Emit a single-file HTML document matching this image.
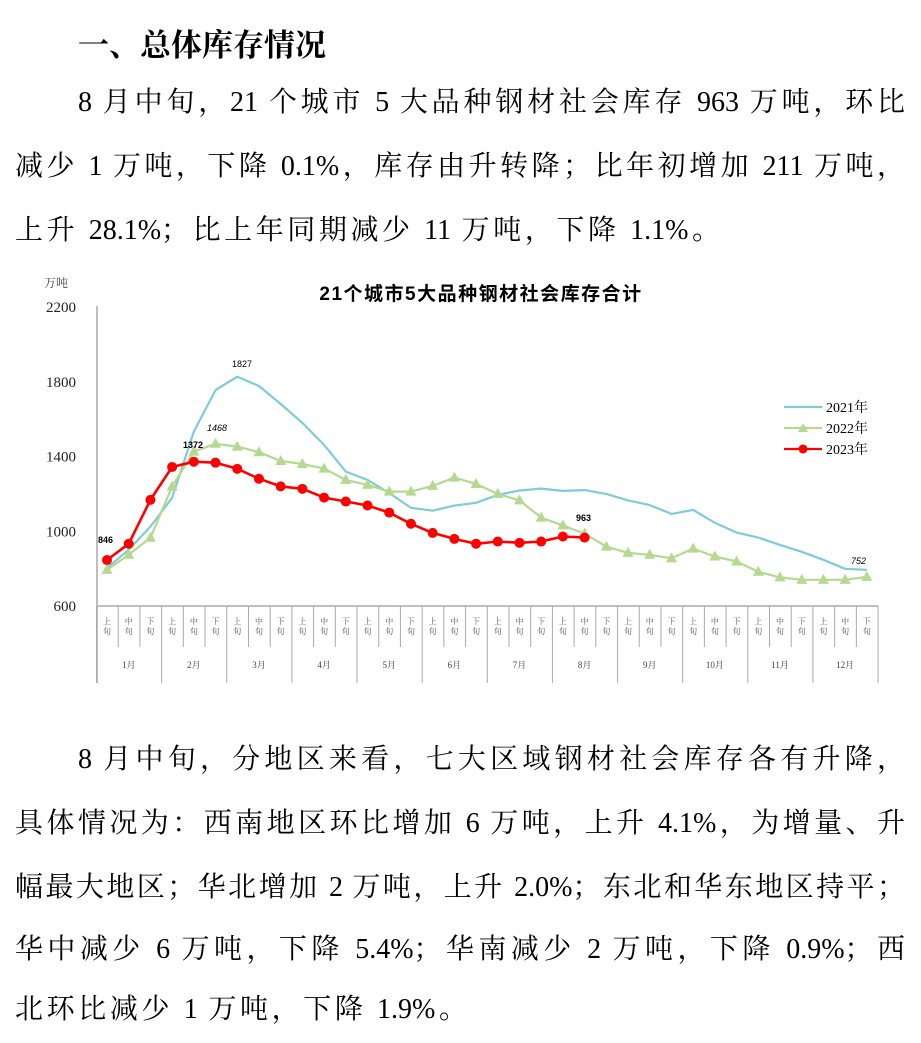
<!DOCTYPE html>
<html><head><meta charset="utf-8">
<style>
body{margin:0;width:921px;height:1043px;background:#fff;position:relative;overflow:hidden;font-family:"Liberation Serif","Noto Serif CJK SC",serif;color:#000}
.l{position:absolute;left:15px;width:890px;font-size:28px;line-height:34px;white-space:nowrap;text-align:justify;text-align-last:justify}
.h{position:absolute;left:78px;top:24px;font-size:31px;font-weight:bold;line-height:38px;font-family:"Noto Serif CJK SC",serif}
svg{position:absolute;left:0;top:0}
</style></head><body>
<div class="h">一、总体库存情况</div>
<div class="l" style="top:86px;left:78px;width:827px">8 月中旬，21 个城市 5 大品种钢材社会库存 963 万吨，环比</div>
<div class="l" style="top:150px">减少 1 万吨，下降 0.1%，库存由升转降；比年初增加 211 万吨，</div>
<div class="l" style="top:214px;width:705px">上升 28.1%；比上年同期减少 11 万吨，下降 1.1%。</div>

<div class="l" style="top:743px;left:78px;width:827px">8 月中旬，分地区来看，七大区域钢材社会库存各有升降，</div>
<div class="l" style="top:807px">具体情况为：西南地区环比增加 6 万吨，上升 4.1%，为增量、升</div>
<div class="l" style="top:871px">幅最大地区；华北增加 2 万吨，上升 2.0%；东北和华东地区持平；</div>
<div class="l" style="top:933px">华中减少 6 万吨，下降 5.4%；华南减少 2 万吨，下降 0.9%；西</div>
<div class="l" style="top:993px;width:452px">北环比减少 1 万吨，下降 1.9%。</div>

<svg id="c" width="921" height="1043" xmlns="http://www.w3.org/2000/svg"></svg>
<script>
var s='';
function Y(v){return 606-(v-600)*299/1600;}
function X(i){return 107+i*21.71;}
s+='<text x="481" y="300" text-anchor="middle" font-family="Liberation Sans,Noto Sans CJK SC,sans-serif" font-weight="bold" font-size="19" letter-spacing="1.5">21个城市5大品种钢材社会库存合计</text>';
s+='<text x="44" y="287" font-family="Noto Serif CJK SC,serif" font-size="12" fill="#444">万吨</text>';
[2200,1800,1400,1000,600].forEach(function(v){s+='<text x="76" y="'+(Y(v)+5)+'" text-anchor="end" font-family="Liberation Serif,serif" font-size="15" fill="#222">'+v+'</text>';});
s+='<line x1="97" y1="306" x2="97" y2="683" stroke="#aaa" stroke-width="1.5"/>';
s+='<line x1="97" y1="606" x2="878" y2="606" stroke="#aaa" stroke-width="1.5"/>';
var sub=['上','中','下'],mon=['1月','2月','3月','4月','5月','6月','7月','8月','9月','10月','11月','12月'];
for(var i=0;i<=36;i++){var x=96.5+i*21.71;s+='<line x1="'+x+'" y1="606" x2="'+x+'" y2="'+(i%3==0?683:647)+'" stroke="#aaa" stroke-width="1"/>';}
for(var i=0;i<36;i++){var x=X(i);s+='<text x="'+x+'" y="624" text-anchor="middle" font-family="Noto Serif CJK SC,serif" font-size="8" fill="#555">'+sub[i%3]+'</text><text x="'+x+'" y="634" text-anchor="middle" font-family="Noto Serif CJK SC,serif" font-size="8" fill="#555">旬</text>';}
for(var m=0;m<12;m++){s+='<text x="'+X(m*3+1)+'" y="668" text-anchor="middle" font-family="Liberation Serif,Noto Serif CJK SC,serif" font-size="9" fill="#444">'+mon[m]+'</text>';}
var a=[804,901,1025,1179,1533,1756,1827,1777,1681,1580,1462,1319,1275,1205,1125,1110,1137,1152,1195,1218,1228,1216,1220,1200,1165,1140,1093,1114,1045,993,966,927,890,847,799,793];
var b=[793,874,965,1239,1426,1468,1453,1423,1376,1360,1335,1275,1248,1212,1212,1243,1287,1253,1200,1165,1073,1031,987,918,884,874,855,907,865,838,783,753,740,740,740,756];
var c=[846,933,1168,1344,1372,1367,1334,1281,1240,1227,1180,1159,1138,1100,1040,991,959,933,945,938,945,972,966];
function pl(d,col,w){return '<polyline fill="none" stroke="'+col+'" stroke-width="'+w+'" stroke-linejoin="round" points="'+d.map(function(v,i){return X(i).toFixed(1)+','+Y(v).toFixed(1)}).join(' ')+'"/>';}
s+=pl(a,'#7ecbdc',2.2);
s+=pl(b,'#b5d98f',2.2);
b.forEach(function(v,i){var x=X(i),y=Y(v);s+='<polygon points="'+x+','+(y-6)+' '+(x-5.5)+','+(y+4)+' '+(x+5.5)+','+(y+4)+'" fill="#b5d98f"/>';});
s+=pl(c,'#ff0000',2.6);
c.forEach(function(v,i){s+='<circle cx="'+X(i)+'" cy="'+Y(v)+'" r="5" fill="#ff0000"/>';});
var f='font-family="Liberation Sans,sans-serif" font-size="9"';
s+='<text x="98" y="543" '+f+' font-weight="bold">846</text>';
s+='<text x="183" y="448" '+f+' font-weight="bold">1372</text>';
s+='<text x="207" y="431" '+f+' font-style="italic">1468</text>';
s+='<text x="232" y="367" '+f+'>1827</text>';
s+='<text x="576" y="521" '+f+' font-weight="bold">963</text>';
s+='<text x="851" y="564" '+f+' font-style="italic">752</text>';
var lg=[['2021年','#7ecbdc',0],['2022年','#b5d98f',1],['2023年','#ff0000',2]];
lg.forEach(function(l,k){var y=407+k*21;s+='<line x1="784" y1="'+y+'" x2="822" y2="'+y+'" stroke="'+l[1]+'" stroke-width="2.2"/>';
if(k==1)s+='<polygon points="803,'+(y-5)+' 798,'+(y+4)+' 808,'+(y+4)+'" fill="'+l[1]+'"/>';
if(k==2)s+='<circle cx="803" cy="'+y+'" r="4.5" fill="'+l[1]+'"/>';
s+='<text x="826" y="'+(y+5)+'" font-family="Liberation Serif,Noto Serif CJK SC,serif" font-size="14">'+l[0]+'</text>';});
document.getElementById('c').innerHTML=s;
</script>
</body></html>
